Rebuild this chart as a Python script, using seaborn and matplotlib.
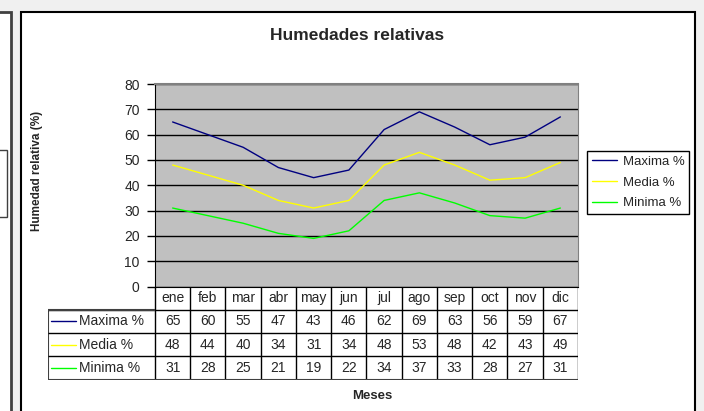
import pandas as pd
import numpy as np
import matplotlib.pyplot as plt
import seaborn as sns
from matplotlib.patches import Rectangle

months = ['ene', 'feb', 'mar', 'abr', 'may', 'jun', 'jul', 'ago', 'sep', 'oct', 'nov', 'dic']
series_names = ['Maxima %', 'Media %', 'Minima %']
maxima = [65, 60, 55, 47, 43, 46, 62, 69, 63, 56, 59, 67]
media = [48, 44, 40, 34, 31, 34, 48, 53, 48, 42, 43, 49]
minima = [31, 28, 25, 21, 19, 22, 34, 37, 33, 28, 27, 31]
colors = ['#000080', '#ffff00', '#00ff00']

sns.set_style('white')
plt.rcParams['font.family'] = ['Liberation Sans', 'DejaVu Sans']

# long format table for seaborn
values = [maxima, media, minima]
df = pd.DataFrame({
    'mes': np.tile(np.arange(len(months)), len(series_names)),
    'serie': np.repeat(series_names, len(months)),
    'valor': np.concatenate(values),
})

W, H = 704, 411
fig = plt.figure(figsize=(W / 100, H / 100), dpi=100)
fig.patch.set_facecolor('#f0f0f0')


def fx(px):
    return px / W


def fy(py):
    return 1 - py / H


# chart frames (the left one is a neighbouring chart cut off)
fig.add_artist(Rectangle((fx(-10), fy(430)), fx(21), fy(12) - fy(430), transform=fig.transFigure,
                         facecolor='white', edgecolor='#404040', lw=2, zorder=-5))
fig.add_artist(Rectangle((fx(-10), fy(217)), fx(17), fy(150) - fy(217), transform=fig.transFigure,
                         facecolor='white', edgecolor='#404040', lw=1, zorder=-4))
fig.add_artist(Rectangle((fx(21), fy(430)), fx(674), fy(12) - fy(430), transform=fig.transFigure,
                         facecolor='white', edgecolor='black', lw=1.5, zorder=-5))

left, right, top, bottom = 155, 578, 84, 286.5
ax = fig.add_axes([fx(left), fy(bottom), fx(right - left), fy(top) - fy(bottom)])
ax.set_facecolor('#c0c0c0')
sns.lineplot(data=df, x='mes', y='valor', hue='serie', palette=colors, lw=1, ax=ax, legend=False)
ax.set_xlim(-0.5, len(months) - 0.5)
ax.set_ylim(0, 80)
ax.set_yticks(range(0, 81, 10))
ax.set_xticks([])
ax.set_xlabel('')
ax.set_ylabel('')
ax.grid(axis='y', color='black', lw=1)
ax.set_axisbelow(True)
ax.tick_params(axis='y', direction='out', length=6, width=1, color='black', pad=5, labelsize=10, left=True)
ax.spines['left'].set_color('black')
ax.spines['bottom'].set_color('black')
ax.spines['top'].set_color('#808080')
ax.spines['top'].set_linewidth(1.5)
ax.spines['right'].set_color('#808080')

# legend
handles = [plt.Line2D([], [], color=c, lw=1) for c in colors]
leg = fig.legend(handles, series_names, loc='upper left', bbox_to_anchor=(fx(587), fy(151)),
                 frameon=True, fancybox=False, framealpha=1, edgecolor='black', fontsize=9.5,
                 handlelength=1.9, handletextpad=0.45, borderpad=0.35, labelspacing=0.65,
                 borderaxespad=0)
leg.get_frame().set_linewidth(1)

# data table under the plot
tleft, tbottom = 47.7, 379.5
n = len(months)
keyw = (left - tleft) / ((right - left) / n)
tax = fig.add_axes([fx(tleft), fy(tbottom), fx(right - tleft), fy(bottom) - fy(tbottom)])
tax.set_xlim(-0.5 - keyw, n - 0.5)
tax.set_ylim(4, 0)
tax.axis('off')
x0 = -0.5 - keyw
tax.vlines(np.arange(n + 1) - 0.5, 0, 4, color='black', lw=1)
tax.vlines([x0], 1, 4, color='#404040', lw=1.5)
tax.hlines([1, 2, 3], x0, n - 0.5, color='black', lw=1)
tax.hlines([4], x0, n - 0.5, color='#404040', lw=1.5)
tax.hlines([1], x0, -0.5, color='#404040', lw=1.5)
for i, m in enumerate(months):
    tax.text(i, 0.5, m, ha='center', va='center', fontsize=10)
for r, (name, vals, c) in enumerate(zip(series_names, values, colors)):
    yc = r + 1.5
    tax.plot([x0 + 0.1, x0 + 0.8], [yc, yc], color=c, lw=1)
    tax.text(x0 + 0.9, yc, name, ha='left', va='center', fontsize=10)
    for i, v in enumerate(vals):
        tax.text(i, yc, str(v), ha='center', va='center', fontsize=10)

fig.text(fx(357.5), fy(36), 'Humedades relativas', ha='center', va='center', fontsize=12.5, fontweight='bold')
fig.text(fx(37), fy(171), 'Humedad relativa (%)', ha='center', va='center', rotation=90,
         fontsize=8.5, fontweight='bold')
fig.text(fx(372), fy(396), 'Meses', ha='center', va='center', fontsize=9.5, fontweight='bold')

fig.savefig('out.png', dpi=100, facecolor=fig.get_facecolor())
